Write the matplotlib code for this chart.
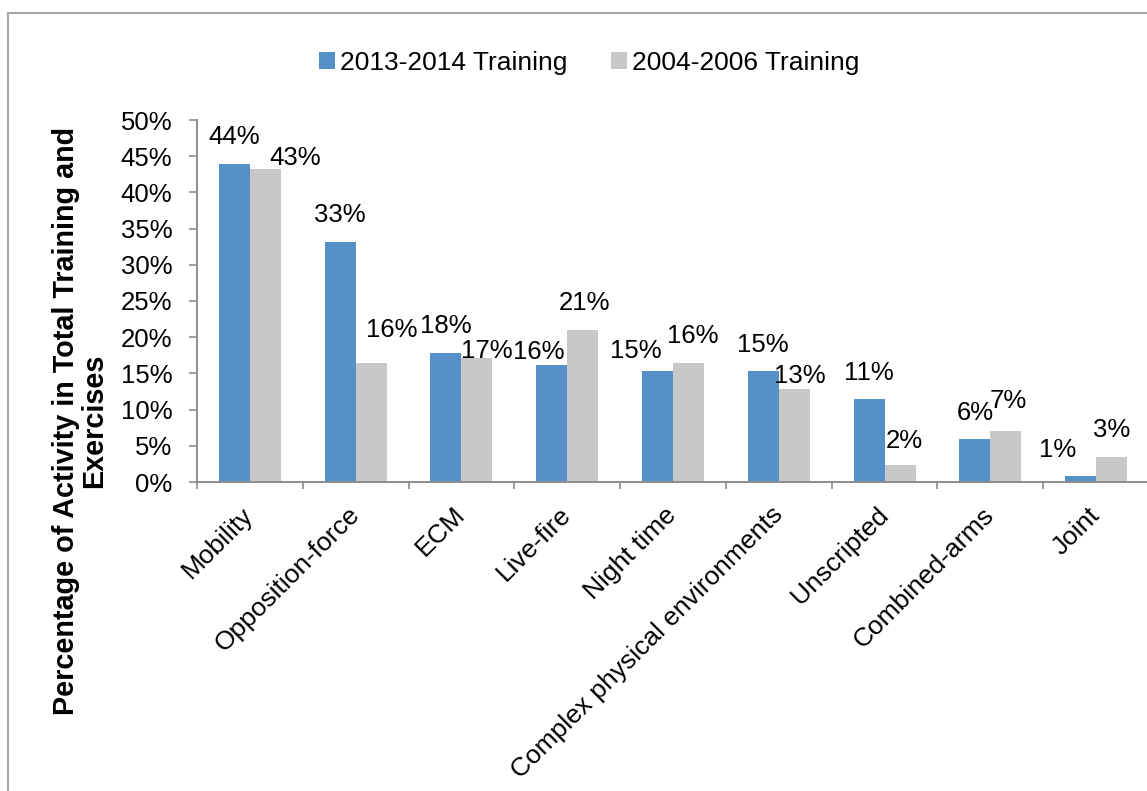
import numpy as np
import matplotlib
matplotlib.use("Agg")
import matplotlib.pyplot as plt
from matplotlib.patches import Rectangle

# Datos
categories = ["Mobility", "Opposition-force", "ECM", "Live-fire", "Night time",
              "Complex physical environments", "Unscripted", "Combined-arms", "Joint"]
train_2013 = [43.9, 33.2, 17.8, 16.2, 15.4, 15.4, 11.4, 5.9, 0.8]
train_2004 = [43.2, 16.4, 17.1, 21.0, 16.4, 12.8, 2.3, 7.0, 3.4]
series_names = ["2013-2014 Training", "2004-2006 Training"]
yticks = [0, 5, 10, 15, 20, 25, 30, 35, 40, 45, 50]

# desplazamientos de las etiquetas (px), como en el original
dx_2013 = [0, 0, 0, -13, -22, 0, 0, 0, -23]
dy_2013 = [20, 20, 20, 6, 13, 19, 19, 19, 19]
dx_2004 = [30, 21, 10, 2, 4, 6, 4, 2, 0]
dy_2004 = [4, 26, 0, 20, 20, 6, 17, 23, 20]

blue = "#5690C8"
grey = "#C8C8C8"
axis_col = "#8C8C8C"
plt.rcParams['font.family'] = ['Liberation Sans', 'DejaVu Sans']

W, H = 1147, 791
fig = plt.figure(figsize=(W / 100, H / 100), dpi=100)

# marco exterior
fig.patches.append(Rectangle((8 / W, -0.1), 1.2, 1.1 - 12.5 / H, transform=fig.transFigure,
                             fill=False, edgecolor="#A6A6A6", lw=1.5))

ax = fig.add_axes([197 / W, 1 - 482 / H, 952 / W, (482 - 120) / H])

x = np.arange(len(categories))
w = 0.293
b1 = ax.bar(x - w / 2, train_2013, w, color=blue, label=series_names[0])
b2 = ax.bar(x + w / 2, train_2004, w, color=grey, label=series_names[1])

px = 0.72  # puntos por pixel
for bars, vals, dxs, dys in [(b1, train_2013, dx_2013, dy_2013), (b2, train_2004, dx_2004, dy_2004)]:
  for b, v, dx, dy in zip(bars, vals, dxs, dys):
    ax.annotate("%d%%" % round(v), (b.get_x() + b.get_width() / 2, v),
                xytext=(dx * px, dy * px), textcoords="offset points",
                ha="center", va="baseline", fontsize=18.5)

ax.set_xlim(-0.5, len(categories) - 0.5)
ax.set_ylim(0, 50)
ax.set_yticks(yticks)
ax.set_yticklabels(["%d%%" % t for t in yticks], fontsize=18.5)
ax.tick_params(axis="y", length=8 * px, width=1.2, color=axis_col, pad=12)

ax.set_xticks(x)
ax.set_xticklabels(categories, fontsize=19, rotation=45, ha="right",
                   va="center", rotation_mode="anchor")
ax.set_xticks(np.arange(len(categories) + 1) - 0.5, minor=True)
ax.tick_params(axis="x", which="major", length=0, pad=21)
ax.tick_params(axis="x", which="minor", length=7 * px, width=1.2, color=axis_col)

for s in ["top", "right"]:
  ax.spines[s].set_visible(False)
for s in ["left", "bottom"]:
  ax.spines[s].set_color(axis_col)
  ax.spines[s].set_linewidth(1.4)

fig.text(80 / W, 1 - 421 / H, "Percentage of Activity in Total Training and\nExercises",
         rotation=90, ha="center", va="center", multialignment="center",
         fontsize=20.7, fontweight="bold", linespacing=1.0)

fig.legend(handles=[b1, b2], labels=series_names, loc="center",
           bbox_to_anchor=(589 / W, 1 - 63 / H), ncol=2, frameon=False,
           fontsize=19, handlelength=0.6, handleheight=0.6,
           handletextpad=0.2, columnspacing=1.65, borderaxespad=0)

fig.savefig("out.png", dpi=100)
